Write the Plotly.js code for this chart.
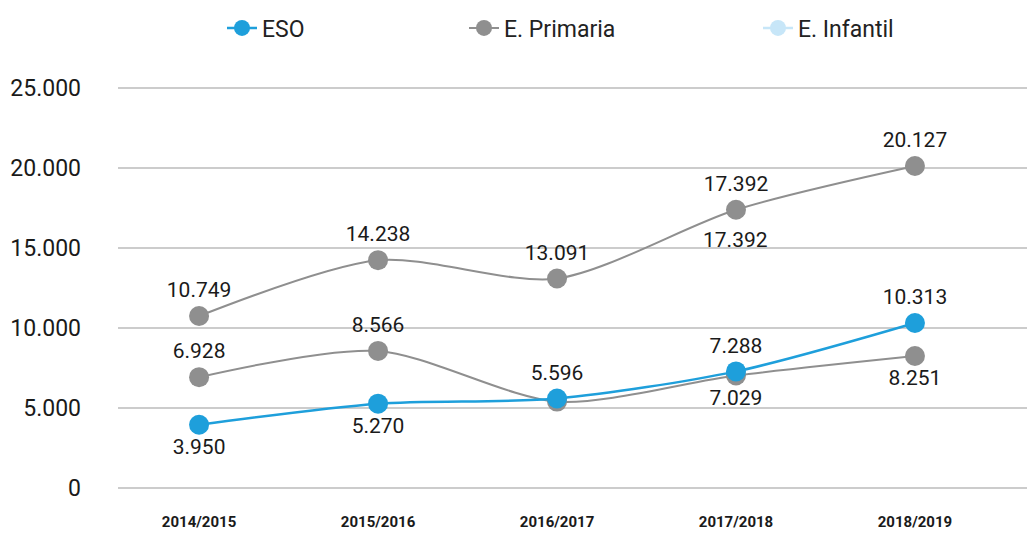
<!DOCTYPE html>
<html>
<head>
<meta charset="utf-8">
<script src="https://cdn.plot.ly/plotly-3.0.1.min.js"></script>
<style>
html,body{margin:0;padding:0;background:#fff;}
#chart{width:1027px;height:536px;}
</style>
</head>
<body>
<div id="chart"></div>
<script>
const years = ["2014/2015", "2015/2016", "2016/2017", "2017/2018", "2018/2019"];
const eso = [3950, 5270, 5596, 7288, 10313];
const primaria = [10749, 14238, 13091, 17392, 20127];
const infantil = [6928, 8566, 5400, 7029, 8251];
const yTicks = [0, 5000, 10000, 15000, 20000, 25000];

const BLUE = "#1e9fdb", GRAY = "#8f8f8f", LIGHT = "#c7e6f8";
const HAND = "Roboto, sans-serif";
const labelFont = {family: HAND, size: 21, color: "#1a1a1a"};
const fmt = v => v.toLocaleString("de-DE");

const traces = [
  {
    x: years, y: infantil, name: "E. Infantil", showlegend: false,
    mode: "lines+markers+text", type: "scatter",
    line: {color: GRAY, width: 2, shape: "spline", smoothing: 0.8},
    marker: {color: GRAY, size: 20},
    texttemplate: ["%{y:,}", "%{y:,}", "", "%{y:,}", "%{y:,}"],
    textposition: ["top center", "top center", "top center", "bottom center", "bottom center"],
    textfont: labelFont, cliponaxis: false, hoverinfo: "skip"
  },
  {
    x: years, y: primaria, name: "E. Primaria", legend: "legend2",
    mode: "lines+markers+text", type: "scatter",
    line: {color: GRAY, width: 2, shape: "spline", smoothing: 0.8},
    marker: {color: GRAY, size: 20},
    texttemplate: "%{y:,}", textposition: "top center",
    textfont: labelFont, cliponaxis: false
  },
  {
    x: years, y: eso, name: "ESO", legend: "legend",
    mode: "lines+markers+text", type: "scatter",
    line: {color: BLUE, width: 2.5, shape: "spline", smoothing: 0.8},
    marker: {color: BLUE, size: 20},
    texttemplate: "%{y:,}",
    textposition: ["bottom center", "bottom center", "top center", "top center", "top center"],
    textfont: labelFont, cliponaxis: false
  },
  {
    x: [null], y: [null], name: "E. Infantil", legend: "legend3",
    mode: "lines+markers", type: "scatter",
    line: {color: LIGHT, width: 2.5}, marker: {color: LIGHT, size: 20}
  }
];

const legBase = {
  orientation: "h", xref: "container", yref: "container", yanchor: "middle", y: 1 - 28/536,
  xanchor: "left", bgcolor: "rgba(0,0,0,0)", borderwidth: 0,
  font: {family: "Roboto, sans-serif", size: 23, color: "#222"}
};

const layout = {
  width: 1027, height: 536,
  margin: {l: 118, r: 0, t: 60, b: 41},
  paper_bgcolor: "#fff", plot_bgcolor: "#fff",
  separators: ",.",
  showlegend: true,
  legend: Object.assign({}, legBase, {x: 222/1027}),
  legend2: Object.assign({}, legBase, {x: 464/1027}),
  legend3: Object.assign({}, legBase, {x: 758/1027}),
  xaxis: {
    type: "category", range: [-0.453, 4.626],
    showgrid: false, zeroline: false, showline: false, ticks: "",
    tickfont: {family: HAND, size: 15, color: "#1a1a1a", weight: "bold"},
    ticklabelstandoff: 16, fixedrange: true
  },
  yaxis: {
    range: [-437.5, 26750], tickvals: yTicks, tickformat: ",d",
    showgrid: true, gridcolor: "#cccccc", gridwidth: 2,
    zeroline: false, showline: false, ticks: "",
    tickfont: {family: HAND, size: 23, color: "#1a1a1a"},
    ticklabelstandoff: 36, fixedrange: true
  },
  annotations: [{
    x: years[3], y: primaria[3], xref: "x", yref: "y", text: fmt(primaria[3]),
    showarrow: false, yshift: -30, font: labelFont
  }]
};

Plotly.newPlot("chart", traces, layout, {displayModeBar: false, staticPlot: true});
</script>
</body>
</html>
